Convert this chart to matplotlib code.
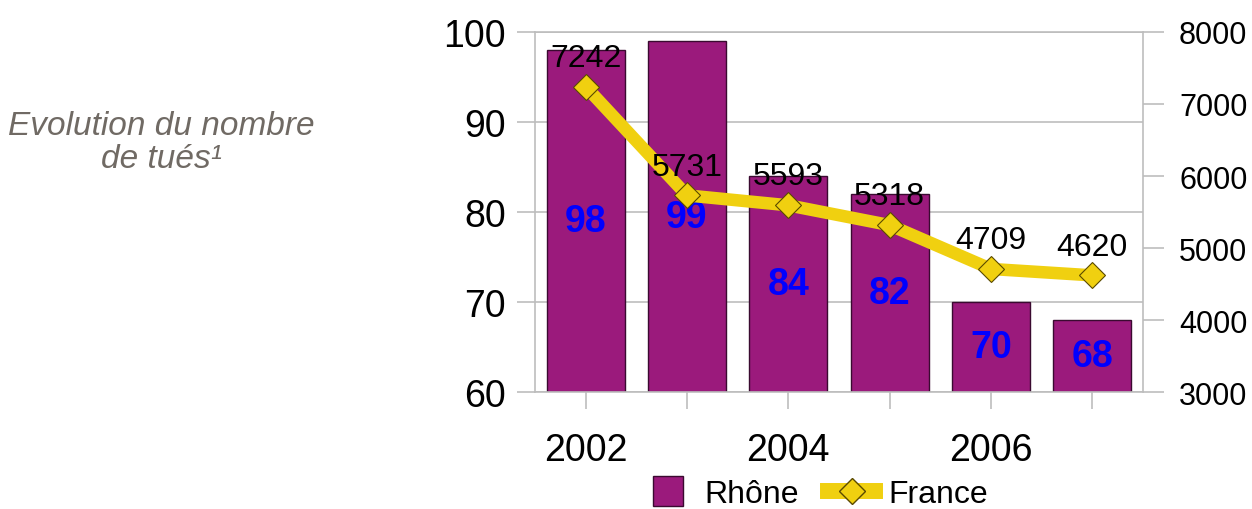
import matplotlib
matplotlib.use("Agg")
import matplotlib.pyplot as plt
from matplotlib.lines import Line2D

years = ["2002", "2003", "2004", "2005", "2006", "2007"]
xtick_labels = ["2002", "", "2004", "", "2006", ""]
rhone = [98, 99, 84, 82, 70, 68]
france = [7242, 5731, 5593, 5318, 4709, 4620]
left_ticks = [60, 70, 80, 90, 100]
right_ticks = [3000, 4000, 5000, 6000, 7000, 8000]

plt.rcParams['font.family'] = ['Liberation Sans', 'DejaVu Sans']

PURPLE = "#9B1A7C"
YELLOW = "#F0D010"
GRID = "#BDBDBD"

fig = plt.figure(figsize=(12.52, 5.10), dpi=100)
ax = fig.add_axes([0.4273, 0.2294, 0.4856, 0.7059])
x = list(range(len(years)))

ax.bar(x, [v - 60 for v in rhone], bottom=60, width=0.77, color=PURPLE,
       edgecolor="#3a0a30", linewidth=1.0, zorder=2)
ax.set_ylim(60, 100)
ax.set_xlim(-0.5, 5.5)
ax.set_yticks(left_ticks)
ax.yaxis.grid(True, color=GRID, linewidth=1.2, zorder=0)
ax.set_axisbelow(True)
ax.set_xticks(x)
ax.set_xticklabels(xtick_labels)
ax.tick_params(axis='y', labelsize=27, length=13, width=1.2, color=GRID, pad=8)
ax.tick_params(axis='x', labelsize=27, length=12, width=1.2, color=GRID, pad=17)
for s in ax.spines.values():
    s.set_color(GRID)
    s.set_linewidth(1.2)

for xi, v in zip(x, rhone):
    ax.text(xi, (60 + v) / 2, str(v), ha='center', va='center', color='#0000FF',
            fontsize=27, fontweight='bold', zorder=5)

ax2 = ax.twinx()
ax2.set_ylim(3000, 8000)
ax2.set_yticks(right_ticks)
ax2.tick_params(axis='y', labelsize=22, length=15, width=1.2, color=GRID, pad=11)
for s in ax2.spines.values():
    s.set_visible(False)
ax2.plot(x, france, color=YELLOW, linewidth=9, solid_capstyle='butt',
         solid_joinstyle='round', zorder=3)
ax2.plot(x, france, linestyle='none', marker='D', markersize=13,
         markerfacecolor=YELLOW, markeredgecolor='#5a4a00', markeredgewidth=0.8, zorder=4)
for xi, v in zip(x, france):
    ax2.annotate(str(v), (xi, v), xytext=(0, 15), textcoords='offset points',
                 ha='center', va='baseline', fontsize=23, color='black', zorder=6)

handles = [Line2D([0], [0], linestyle='none', marker='s', markersize=21,
                  markerfacecolor=PURPLE, markeredgecolor='#3a0a30', markeredgewidth=1.0,
                  label='Rhône'),
           Line2D([0], [0], color=YELLOW, linewidth=11.5, marker='D', markersize=13,
                  markerfacecolor=YELLOW, markeredgecolor='#5a4a00', label='France')]
fig.legend(handles=handles, loc='center', bbox_to_anchor=(0.652, 0.03), ncol=2,
           frameon=False, fontsize=23, handlelength=1.48, numpoints=1,
           columnspacing=0.9, handletextpad=0.4)

fig.text(0.129, 0.752, "Evolution du nombre", ha='center', va='center',
         fontsize=24, style='italic', color='#706A64')
fig.text(0.129, 0.688, "de tués\u00b9", ha='center', va='center',
         fontsize=24, style='italic', color='#706A64')

fig.savefig("out.png", dpi=100)
